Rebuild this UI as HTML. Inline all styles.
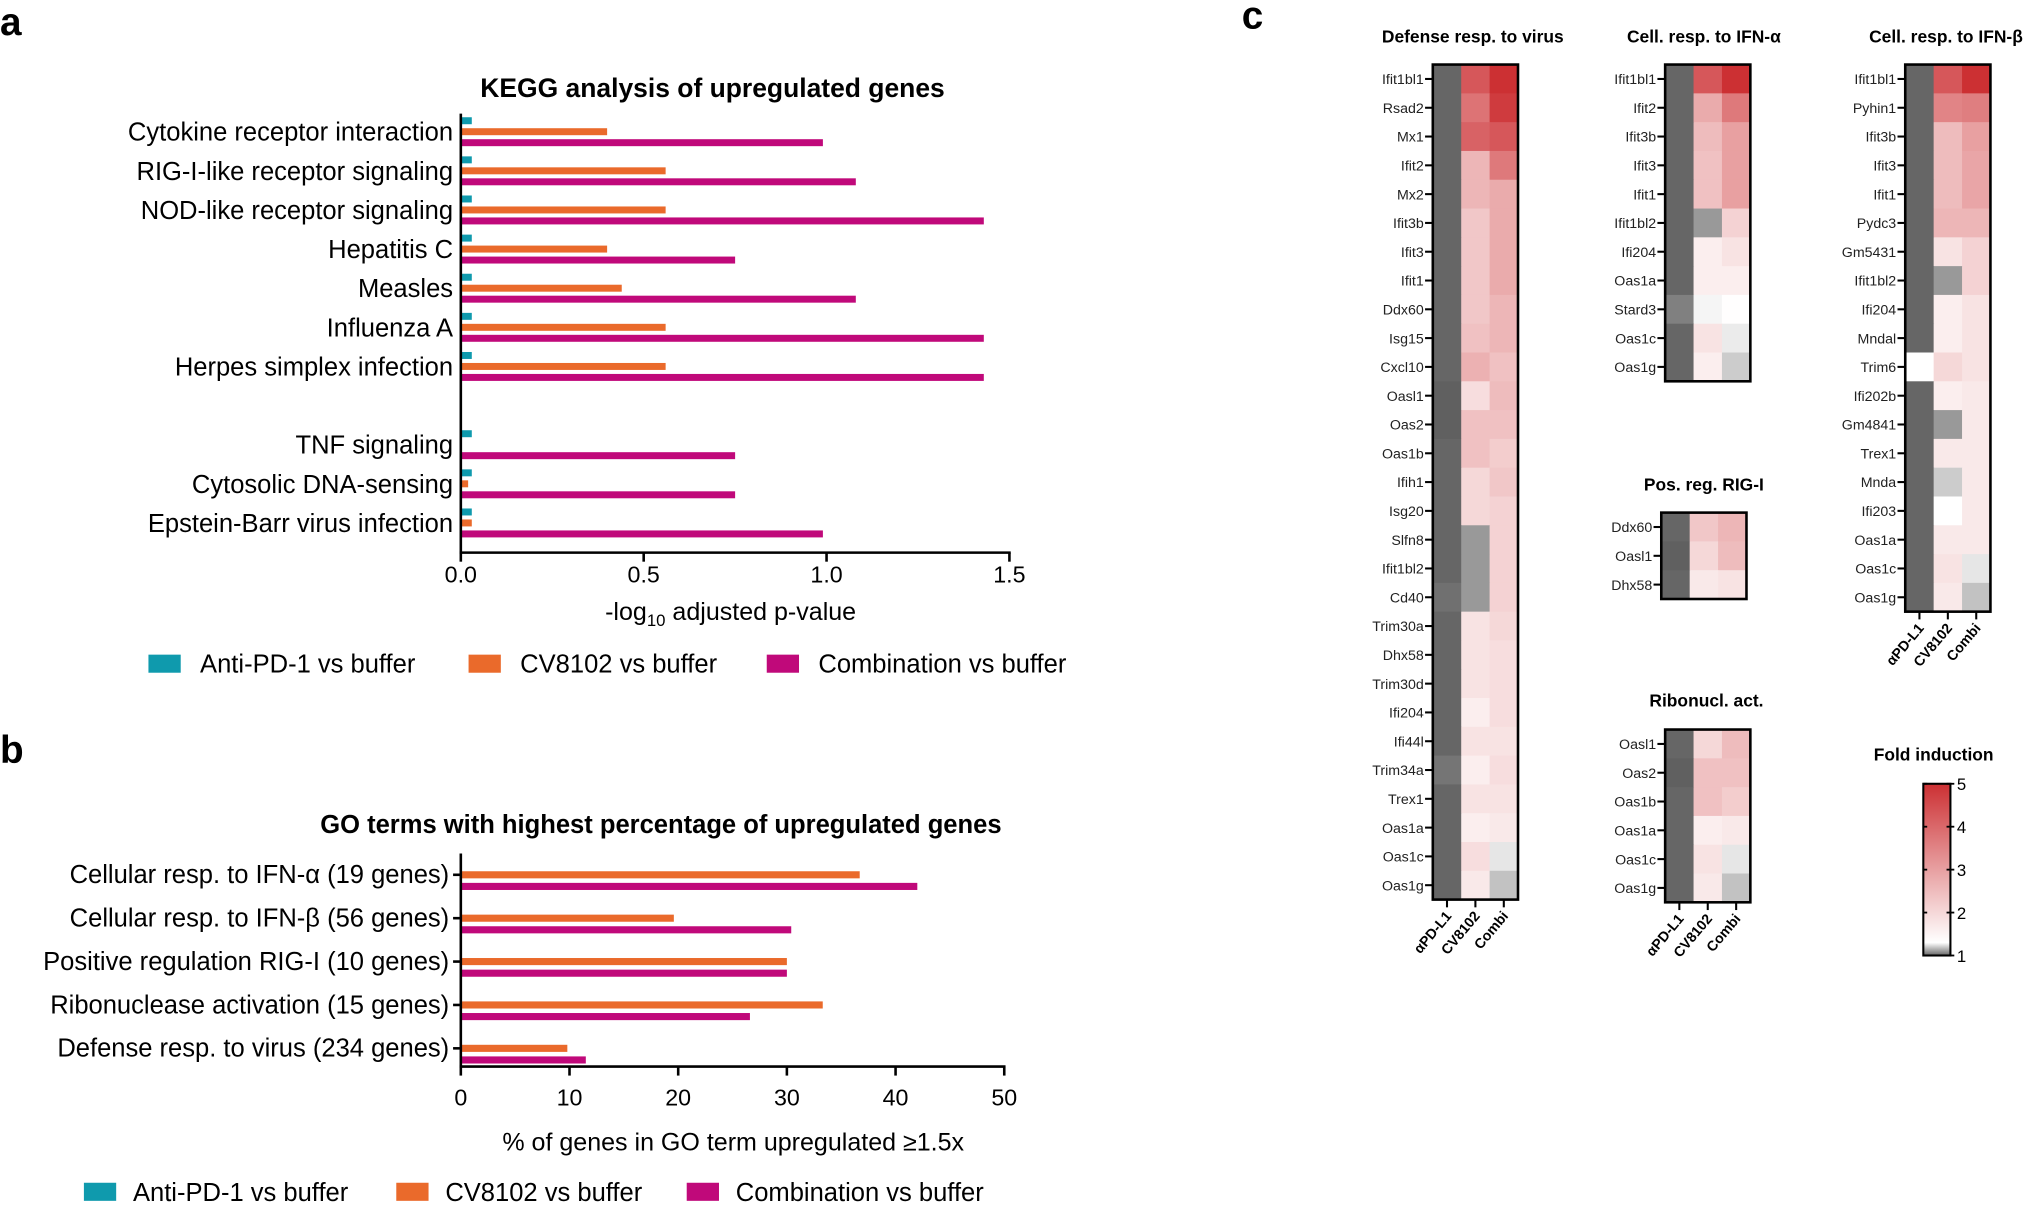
<!DOCTYPE html>
<html><head><meta charset="utf-8">
<style>
html,body{margin:0;padding:0;background:#fff;}
svg{display:block;font-family:"Liberation Sans",Arial,sans-serif;}
</style></head>
<body>
<svg id="fig" width="2024" height="1206" viewBox="0 0 1568 934" preserveAspectRatio="none" xmlns="http://www.w3.org/2000/svg">
<g id="root"></g>
</svg>
<script>
// ---------- Panel a data ----------
const keggCats = ["Cytokine receptor interaction","RIG-I-like receptor signaling","NOD-like receptor signaling","Hepatitis C","Measles","Influenza A","Herpes simplex infection","","TNF signaling","Cytosolic DNA-sensing","Epstein-Barr virus infection"];
const keggAnti = [0.03,0.03,0.03,0.03,0.03,0.03,0.03,null,0.03,0.03,0.03];
const keggCV = [0.40,0.56,0.56,0.40,0.44,0.56,0.56,null,0,0.02,0.03];
const keggCombo = [0.99,1.08,1.43,0.75,1.08,1.43,1.43,null,0.75,0.75,0.99];
const keggTicks = [0.0,0.5,1.0,1.5];
const keggTickLabels = ["0.0","0.5","1.0","1.5"];
// ---------- Panel b data ----------
const goCats = ["Cellular resp. to IFN-α (19 genes)","Cellular resp. to IFN-β (56 genes)","Positive regulation RIG-I (10 genes)","Ribonuclease activation (15 genes)","Defense resp. to virus (234 genes)"];
const goAnti = [0,0,0,0,0];
const goCV = [36.7,19.6,30.0,33.3,9.8];
const goCombo = [42.0,30.4,30.0,26.6,11.5];
const goTicks = [0,10,20,30,40,50];
// ---------- Panel c data ----------
const hmCols = ["αPD-L1","CV8102","Combi"];
const defGenes = ["Ifit1bl1","Rsad2","Mx1","Ifit2","Mx2","Ifit3b","Ifit3","Ifit1","Ddx60","Isg15","Cxcl10","Oasl1","Oas2","Oas1b","Ifih1","Isg20","Slfn8","Ifit1bl2","Cd40","Trim30a","Dhx58","Trim30d","Ifi204","Ifi44l","Trim34a","Trex1","Oas1a","Oas1c","Oas1g"];
const defApd = [1,1,1,1,1,1,1,1,1,1,1,0.98,0.98,1,1,1,1,1,1.02,1,1,1,1,1,1.03,1,1,1,1];
const defCV = [4.3,3.8,4.1,2.6,2.6,2.3,2.3,2.3,2.3,2.4,2.7,1.9,2.4,2.4,2.0,2.0,1.1,1.1,1.1,1.8,1.8,1.8,1.6,1.8,1.6,1.8,1.6,1.9,1.7];
const defCombi = [5.0,4.8,4.3,3.7,2.8,2.8,2.8,2.8,2.6,2.6,2.4,2.5,2.4,2.2,2.3,2.1,2.1,2.1,2.1,2.0,1.9,1.9,1.9,1.8,1.9,1.8,1.7,1.25,1.18];
const ifnaGenes = ["Ifit1bl1","Ifit2","Ifit3b","Ifit3","Ifit1","Ifit1bl2","Ifi204","Oas1a","Stard3","Oas1c","Oas1g"];
const ifnaApd = [1,1,1,1,1,1,1,1,1.05,1,1];
const ifnaCV = [4.3,2.8,2.5,2.4,2.4,1.1,1.6,1.6,1.28,1.8,1.6];
const ifnaCombi = [5.0,3.7,3.0,3.0,3.0,2.1,1.8,1.6,1.32,1.26,1.2];
const ifnbGenes = ["Ifit1bl1","Pyhin1","Ifit3b","Ifit3","Ifit1","Pydc3","Gm5431","Ifit1bl2","Ifi204","Mndal","Trim6","Ifi202b","Gm4841","Trex1","Mnda","Ifi203","Oas1a","Oas1c","Oas1g"];
const ifnbApd = [1,1,1,1,1,1,1,1,1,1,1.3,1,1,1,1,1,1,1,1];
const ifnbCV = [4.3,3.5,2.5,2.5,2.5,2.6,1.8,1.1,1.6,1.6,2.0,1.6,1.1,1.7,1.2,1.3,1.7,1.8,1.7];
const ifnbCombi = [5.0,3.6,3.0,2.9,2.9,2.6,2.1,2.1,1.8,1.8,1.8,1.7,1.7,1.7,1.7,1.7,1.7,1.25,1.18];
const rigGenes = ["Ddx60","Oasl1","Dhx58"];
const rigApd = [1,0.98,1];
const rigCV = [2.3,2.0,1.7];
const rigCombi = [2.6,2.5,1.8];
const ribGenes = ["Oasl1","Oas2","Oas1b","Oas1a","Oas1c","Oas1g"];
const ribApd = [1,0.98,1,1,1,1];
const ribCV = [2.0,2.4,2.4,1.6,1.8,1.7];
const ribCombi = [2.5,2.4,2.2,1.7,1.25,1.18];
const cbTicks = [1,2,3,4,5];

const NS = "http://www.w3.org/2000/svg";
const root = document.getElementById("root");
function mk(tag, attrs, parent, text){
  const e = document.createElementNS(NS, tag);
  for (const k in attrs) e.setAttribute(k, attrs[k]);
  if (text !== undefined) e.textContent = text;
  (parent || root).appendChild(e);
  return e;
}
const TEAL="#0f9aad", ORANGE="#ea6a2b", MAG="#c0097a";

let t;
t = mk("text",{x:0,y:27,"font-size":30,"font-weight":"bold"},root,"a");


t = mk("text",{x:0,y:591,"font-size":30,"font-weight":"bold"},root,"b");


t = mk("text",{x:962,y:22,"font-size":30,"font-weight":"bold"},root,"c");



// ---------- Panel a ----------
(function(){
  const g = mk("g",{});
  
  
  const x0=357, x1=782, xmax=1.5;
  const xs = v => x0 + (v/xmax)*(x1-x0);
  const yc = i => 102 + 30.3*i;
  const base = 428;
  t = mk("text",{x:552,y:75,"font-size":20.5,"font-weight":"bold","text-anchor":"middle"},g,"KEGG analysis of upregulated genes");
  
  
  const bh=5.4;
  keggCats.forEach((c,i)=>{
    if(!c) return;
    const y=yc(i);
    t = mk("text",{x:351,y:y+7,"font-size":19.8,"text-anchor":"end"},g,c);
    
    
    const series=[[keggAnti[i],TEAL,-8.5],[keggCV[i],ORANGE,0],[keggCombo[i],MAG,8.5]];
    series.forEach(s=>{
      if(s[0]===null) return;
      const r = mk("rect",{x:x0,y:y+s[2]-bh/2,width:Math.max(0,xs(s[0])-x0),height:bh,fill:s[1]},g);
      
      
    });
  });
  let l = mk("line",{x1:x0,y1:88,x2:x0,y2:base+1,stroke:"#000","stroke-width":2},g);
  
  
  l = mk("line",{x1:x0-1,y1:base,x2:x1+1,y2:base,stroke:"#000","stroke-width":2},g);
  
  
  keggTicks.forEach((v,i)=>{
    const tk = mk("line",{x1:xs(v),y1:base,x2:xs(v),y2:base+7,stroke:"#000","stroke-width":2},g);
    
    
    t = mk("text",{x:xs(v),y:451,"font-size":18,"text-anchor":"middle"},g,keggTickLabels[i]);
    
    
  });
  t = mk("text",{x:566,y:480,"font-size":19.4,"text-anchor":"middle"},g);
  
  
  t.innerHTML = '-log<tspan font-size="13" dy="5">10</tspan><tspan dy="-5"> adjusted p-value</tspan>';
  const leg=[["Anti-PD-1 vs buffer",TEAL,115],["CV8102 vs buffer",ORANGE,363],["Combination vs buffer",MAG,594]];
  leg.forEach(e=>{
    const r=mk("rect",{x:e[2],y:507,width:25,height:14,fill:e[1]},g);
    
    
    t=mk("text",{x:e[2]+40,y:521,"font-size":19.8},g,e[0]);
    
    
  });
})();

// ---------- Panel b ----------
(function(){
  const g = mk("g",{});
  
  
  const x0=357, x1=778, xmax=50;
  const xs = v => x0 + (v/xmax)*(x1-x0);
  const yc = i => 677.5 + 33.6*i;
  const base = 826;
  t = mk("text",{x:512,y:645,"font-size":19.8,"font-weight":"bold","text-anchor":"middle"},g,"GO terms with highest percentage of upregulated genes");
  
  
  const bh=5.5;
  goCats.forEach((c,i)=>{
    const y=yc(i);
    t = mk("text",{x:348,y:y+6.5,"font-size":19.8,"text-anchor":"end"},g,c);
    
    
    const tk=mk("line",{x1:351,y1:y,x2:357,y2:y,stroke:"#000","stroke-width":2},g);
    
    
    [[goAnti[i],TEAL,-8.5],[goCV[i],ORANGE,0],[goCombo[i],MAG,9]].forEach(s=>{
      const r=mk("rect",{x:x0,y:y+s[2]-bh/2,width:Math.max(0,xs(s[0])-x0),height:bh,fill:s[1]},g);
      
      
    });
  });
  let l = mk("line",{x1:x0,y1:661,x2:x0,y2:base+1,stroke:"#000","stroke-width":2},g);
  
  
  l = mk("line",{x1:x0-1,y1:base,x2:x1+1,y2:base,stroke:"#000","stroke-width":2},g);
  
  
  goTicks.forEach(v=>{
    const tk=mk("line",{x1:xs(v),y1:base,x2:xs(v),y2:base+7,stroke:"#000","stroke-width":2},g);
    
    
    t=mk("text",{x:xs(v),y:856,"font-size":18,"text-anchor":"middle"},g,String(v));
    
    
  });
  t=mk("text",{x:568,y:891,"font-size":19.4,"text-anchor":"middle"},g,"% of genes in GO term upregulated ≥1.5x");
  
  
  const leg=[["Anti-PD-1 vs buffer",TEAL,65],["CV8102 vs buffer",ORANGE,307],["Combination vs buffer",MAG,532]];
  leg.forEach(e=>{
    const r=mk("rect",{x:e[2],y:916,width:25,height:14,fill:e[1]},g);
    
    
    t=mk("text",{x:e[2]+38,y:930,"font-size":19.8},g,e[0]);
    
    
  });
})();

// ---------- Panel c heatmaps ----------
function foldColor(v){
  let r,gg,b;
  if (v<=1){ const g=Math.max(0x40,Math.round(0x66-(1-v)*300)); r=gg=b=g; }
  else if (v<1.3){ const tt=(v-1)/0.3; const g=Math.round(0x66+(0xff-0x66)*tt); r=gg=b=g; }
  else { const tt=Math.min(1,(v-1.3)/3.7); r=Math.round(255+(0xcc-255)*tt); gg=Math.round(255+(0x30-255)*tt); b=Math.round(255+(0x33-255)*tt); }
  return "rgb("+r+","+gg+","+b+")";
}
const RH=22.3, CW=22;
function heatmap(name,title,tx,ty,anchor,bx,by,genes,c1,c2,c3,showX){
  const g=mk("g",{});
  
  
  t=mk("text",{x:tx,y:ty,"font-size":13.5,"font-weight":"bold","text-anchor":anchor},g,title);
  
  
  const cols=[c1,c2,c3];
  genes.forEach((gn,i)=>{
    const y=by+i*RH;
    cols.forEach((arr,j)=>{
      const r=mk("rect",{x:bx+j*CW,y:y,width:CW+0.4,height:RH+0.4,fill:foldColor(arr[i])},g);
      
      
    });
    const tk=mk("line",{x1:bx-6,y1:y+RH/2,x2:bx,y2:y+RH/2,stroke:"#000","stroke-width":1.6},g);
    
    
    t=mk("text",{x:bx-7,y:y+RH/2+4,"font-size":11,"text-anchor":"end",fill:"#222"},g,gn);
    
    
  });
  const H=genes.length*RH;
  const fr=mk("rect",{x:bx,y:by,width:3*CW,height:H,fill:"none",stroke:"#000","stroke-width":2},g);
  
  
  if(showX){
    hmCols.forEach((c,j)=>{
      const cx=bx+j*CW+CW/2;
      const tk=mk("line",{x1:cx,y1:by+H,x2:cx,y2:by+H+6,stroke:"#000","stroke-width":1.6},g);
      
      
      t=mk("text",{x:cx+4,y:by+H+13,"font-size":11,"font-weight":"bold","text-anchor":"end",transform:"rotate(-50 "+(cx+4)+" "+(by+H+13)+")"},g,c);
      
      
    });
  }
}
heatmap("defense-heatmap","Defense resp. to virus",1141,33,"middle",1110,50,defGenes,defApd,defCV,defCombi,true);
heatmap("ifna-heatmap","Cell. resp. to IFN-α",1320,33,"middle",1290,50,ifnaGenes,ifnaApd,ifnaCV,ifnaCombi,false);
heatmap("ifnb-heatmap","Cell. resp. to IFN-β",1448,33,"start",1476,50,ifnbGenes,ifnbApd,ifnbCV,ifnbCombi,true);
heatmap("rig-heatmap","Pos. reg. RIG-I",1320,380,"middle",1287,397,rigGenes,rigApd,rigCV,rigCombi,false);
heatmap("ribonucl-heatmap","Ribonucl. act.",1322,547,"middle",1290,565,ribGenes,ribApd,ribCV,ribCombi,true);

// colorbar
(function(){
  const g=mk("g",{});
  
  
  const defs=mk("defs",{},g);
  const lg=mk("linearGradient",{id:"cbg",x1:0,y1:1,x2:0,y2:0},defs);
  mk("stop",{offset:"0","stop-color":"#666"},lg);
  mk("stop",{offset:"0.075","stop-color":"#fff"},lg);
  mk("stop",{offset:"1","stop-color":"#cc3033"},lg);
  const top=607, bot=740, x=1490, w=21;
  t=mk("text",{x:1498,y:589,"font-size":13.5,"font-weight":"bold","text-anchor":"middle"},g,"Fold induction");
  
  
  const r=mk("rect",{x:x,y:top,width:w,height:bot-top,fill:"url(#cbg)",stroke:"#000","stroke-width":1.6},g);
  
  
  const ys=v=>bot-(v-1)/4*(bot-top);
  cbTicks.forEach(v=>{
    const tk=mk("line",{x1:x+w-3,y1:ys(v),x2:x+w+3,y2:ys(v),stroke:"#000","stroke-width":1.4},g);
    
    
    const tk2=mk("line",{x1:x,y1:ys(v),x2:x+3,y2:ys(v),stroke:"#000","stroke-width":1.4},g);
    
    
    t=mk("text",{x:1516,y:ys(v)+5,"font-size":13},g,String(v));
    
    
  });
})();
</script>
</body></html>
